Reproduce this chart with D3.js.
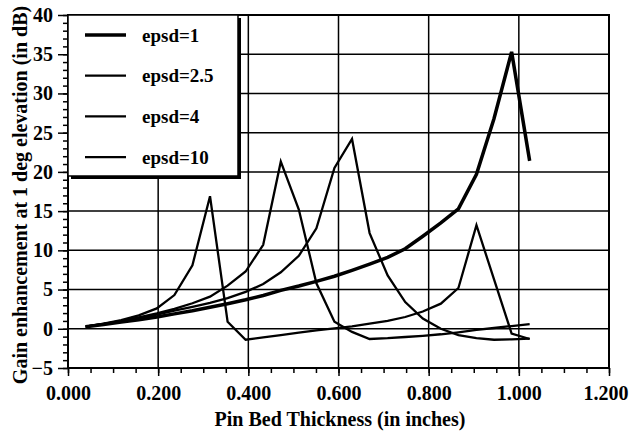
<!DOCTYPE html>
<html>
<head>
<meta charset="utf-8">
<script src="https://cdn.jsdelivr.net/npm/d3@7"></script>
<style>
  body { margin: 0; background: #fff; }
  svg { display: block; }
  text { font-family: "Liberation Serif", "Times New Roman", serif; font-weight: bold; fill: #000; }
</style>
</head>
<body>
<div class="content"></div>
<script>
//--> Data (thickness in inches, one sample per mm)
const thickness = [0.039, 0.079, 0.118, 0.157, 0.197, 0.236, 0.276, 0.315, 0.354, 0.394,
  0.433, 0.472, 0.512, 0.551, 0.591, 0.630, 0.669, 0.709, 0.748, 0.787,
  0.827, 0.866, 0.906, 0.945, 0.984, 1.024];

const epsd1 = [0.27, 0.55, 0.85, 1.15, 1.5, 1.9, 2.3, 2.75, 3.2, 3.7,
  4.25, 4.9, 5.45, 6.05, 6.7, 7.45, 8.25, 9.1, 10.2, 11.8,
  13.5, 15.3, 19.7, 26.8, 35.3, 21.4];
const epsd25 = [0.27, 0.6, 0.95, 1.35, 1.8, 2.3, 2.8, 3.3, 3.9, 4.7,
  5.7, 7.2, 9.3, 12.8, 20.5, 24.2, 12.2, 6.8, 3.4, 1.3,
  0.0, -0.8, -1.2, -1.4, -1.35, -1.25];
const epsd4 = [0.27, 0.62, 1.0, 1.45, 1.95, 2.55, 3.25, 4.1, 5.5, 7.3,
  10.7, 21.3, 15.2, 5.8, 0.9, -0.4, -1.3, -1.2, -1.05, -0.9,
  -0.7, -0.45, -0.15, 0.1, 0.35, 0.6];
const epsd10 = [0.27, 0.65, 1.1, 1.7, 2.6, 4.3, 8.1, 16.9, 0.9, -1.4,
  -1.1, -0.8, -0.5, -0.2, 0.05, 0.3, 0.65, 1.0, 1.5, 2.2,
  3.2, 5.2, 13.2, 6.3, -0.6, -1.3];

const seriesNames = ["epsd=1", "epsd=2.5", "epsd=4", "epsd=10"];
const seriesValues = [epsd1, epsd25, epsd4, epsd10];
const seriesWidths = [3.5, 2.3, 2.3, 2.3];

const xTicks = [0, 0.2, 0.4, 0.6, 0.8, 1.0, 1.2];
const yTicks = [-5, 0, 5, 10, 15, 20, 25, 30, 35, 40];

//--> Constants
const width = 630;
const height = 434;
const plot = { left: 68, right: 609, top: 15, bottom: 368 };
const fontSize = 20;
const legendFontSize = 19;

const svg = d3
  .select(".content")
  .append("svg")
  .attr("width", width)
  .attr("height", height);

const x = d3.scaleLinear().domain([0, 1.2]).range([plot.left, plot.right]);
const y = d3.scaleLinear().domain([-5, 40]).range([plot.bottom, plot.top]);

//--> Grid
const grid = svg.append("g").attr("stroke", "#000").attr("stroke-width", 1.5);
grid
  .selectAll("line.h")
  .data(yTicks)
  .enter()
  .append("line")
  .attr("x1", plot.left)
  .attr("x2", plot.right)
  .attr("y1", d => y(d))
  .attr("y2", d => y(d));
grid
  .selectAll("line.v")
  .data(xTicks)
  .enter()
  .append("line")
  .attr("x1", d => x(d))
  .attr("x2", d => x(d))
  .attr("y1", plot.top)
  .attr("y2", plot.bottom);

//--> Frame
svg
  .append("rect")
  .attr("x", plot.left)
  .attr("y", plot.top)
  .attr("width", plot.right - plot.left)
  .attr("height", plot.bottom - plot.top)
  .attr("fill", "none")
  .attr("stroke", "#000")
  .attr("stroke-width", 2);

//--> Axes
const xAxis = svg
  .append("g")
  .attr("transform", `translate(0, ${plot.bottom})`)
  .call(d3.axisBottom(x).tickValues(xTicks).tickFormat(d3.format(".3f")).tickSize(8).tickPadding(10));
const xMinor = svg
  .append("g")
  .attr("transform", `translate(0, ${plot.bottom})`)
  .call(d3.axisBottom(x).ticks(24).tickFormat("").tickSize(5));

const yAxis = svg
  .append("g")
  .attr("transform", `translate(${plot.left}, 0)`)
  .call(d3.axisLeft(y).tickValues(yTicks).tickSize(10).tickPadding(5));
const yMinor = svg
  .append("g")
  .attr("transform", `translate(${plot.left}, 0)`)
  .call(d3.axisLeft(y).ticks(45).tickFormat("").tickSize(5));

[xAxis, xMinor, yAxis, yMinor].forEach(g => {
  g.select(".domain").remove();
  g.selectAll("line").attr("stroke", "#000").attr("stroke-width", 1.5);
  g.selectAll("text")
    .attr("font-size", `${fontSize}px`)
    .attr("font-family", '"Liberation Serif", serif')
    .attr("font-weight", "bold")
    .attr("fill", "#000");
});

// last x label sits against the right edge, keep it inside the page
xAxis
  .selectAll(".tick text")
  .filter(d => d === 1.2)
  .attr("text-anchor", "end")
  .attr("x", width - 2 - x(1.2));

//--> Lines
const line = d3
  .line()
  .x((d, i) => x(thickness[i]))
  .y(d => y(d));

svg
  .append("g")
  .selectAll("path")
  .data(seriesValues)
  .enter()
  .append("path")
  .attr("d", d => line(d))
  .attr("fill", "none")
  .attr("stroke", "#000")
  .attr("stroke-width", (d, i) => seriesWidths[i])
  .attr("stroke-linejoin", "miter");

//--> Legend
const legend = svg.append("g").attr("id", "legend");
legend
  .append("rect")
  .attr("x", plot.left + 3)
  .attr("y", plot.top + 3)
  .attr("width", 170)
  .attr("height", 161)
  .attr("fill", "#000");
legend
  .append("rect")
  .attr("x", plot.left)
  .attr("y", plot.top)
  .attr("width", 170)
  .attr("height", 161)
  .attr("fill", "#fff")
  .attr("stroke", "#000")
  .attr("stroke-width", 1.5);

legend
  .selectAll("line")
  .data(seriesNames)
  .enter()
  .append("line")
  .attr("x1", 85)
  .attr("x2", 126)
  .attr("y1", (d, i) => 35 + i * 40.7)
  .attr("y2", (d, i) => 35 + i * 40.7)
  .attr("stroke", "#000")
  .attr("stroke-width", (d, i) => seriesWidths[i]);

legend
  .selectAll("text")
  .data(seriesNames)
  .enter()
  .append("text")
  .attr("x", 142)
  .attr("y", (d, i) => 35 + i * 40.7)
  .attr("dy", "0.35em")
  .attr("font-size", `${legendFontSize}px`)
  .text(d => d);

//--> Axis titles
svg
  .append("text")
  .attr("x", 340)
  .attr("y", 426)
  .attr("text-anchor", "middle")
  .attr("font-size", `${fontSize}px`)
  .text("Pin Bed Thickness (in inches)");

svg
  .append("text")
  .attr("transform", "translate(27, 195) rotate(-90)")
  .attr("text-anchor", "middle")
  .attr("font-size", `${fontSize}px`)
  .text("Gain enhancement at 1 deg elevation (in dB)");
</script>
</body>
</html>
